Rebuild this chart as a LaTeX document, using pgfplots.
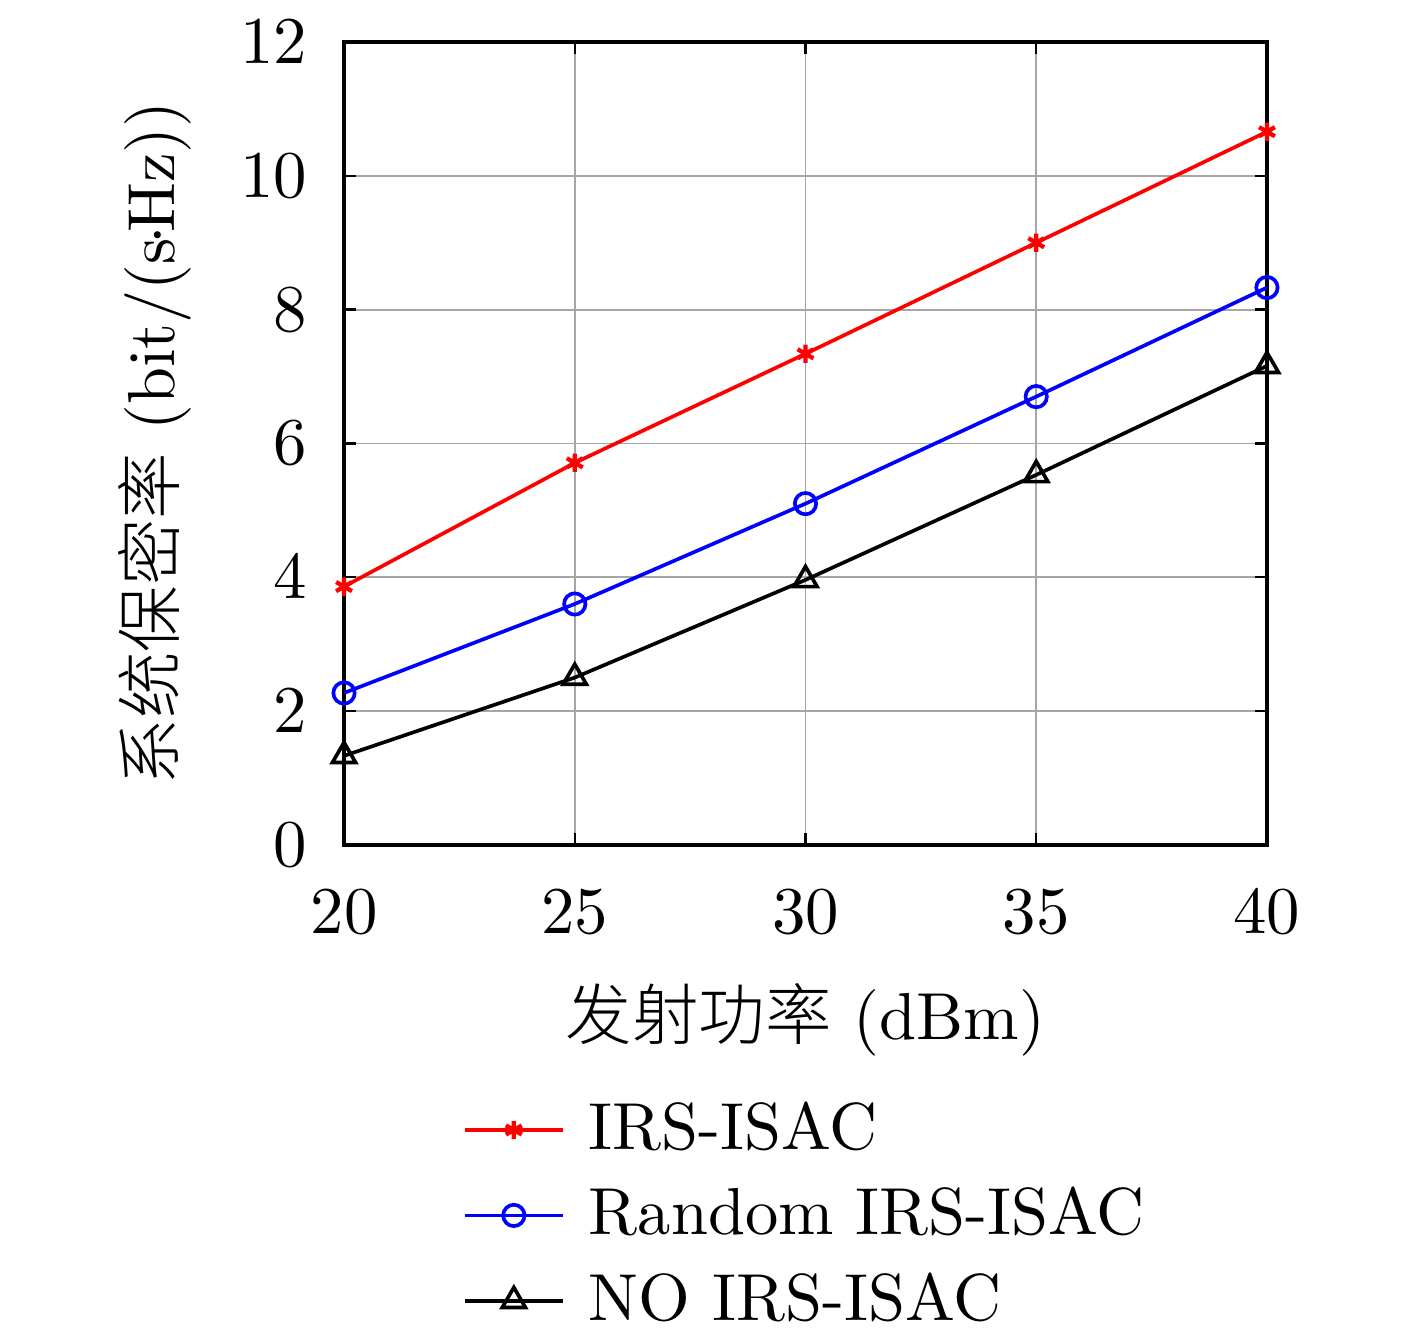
\documentclass[border=0pt]{standalone}
\usepackage{fontspec}
\newfontfamily\cjk{Noto Sans CJK SC Light}
\usepackage{pgfplots}
\pgfplotsset{compat=1.18}
\newcommand\fs{\fontsize{10.9pt}{13.5pt}\selectfont}
\begin{document}
\begin{tikzpicture}
\path[use as bounding box] (-56.4pt,-80.3pt) rectangle (175.9pt,138.5pt);
\begin{axis}[
  at={(0pt,0pt)}, anchor=south west,
  scale only axis, width=151.3pt, height=131.6pt,
  xmin=20, xmax=40, ymin=0, ymax=12,
  xtick={20,25,30,35,40}, ytick={0,2,4,6,8,10,12},
  axis line style={line width=0.65pt},
  tick style={line width=0.4pt, black},
  major tick length=2pt,
  tick align=inside,
  xtick pos=both, ytick pos=both,
  grid=major,
  major grid style={line width=0.3pt, gray!70},
  tick label style={font=\fs},
  xticklabel style={yshift=-4pt},
  yticklabel style={xshift=-2.5pt},
  every axis x label/.style={at={(axis description cs:0.5,-0.218)}, anchor=center, font=\fs},
  every axis y label/.style={at={(axis description cs:-0.205,0.5)}, anchor=center, rotate=90, font=\fs},
  xlabel={{\cjk 发射功率} (dBm)},
  ylabel={{\cjk 系统保密率} (bit/(s\kern-0.1em$\cdot$\kern-0.1em Hz))},
  legend style={draw=none, fill=none, at={(0.108,-0.288)}, anchor=north west, row sep=0.7pt, font=\fs,
    nodes={inner xsep=4pt}},
  legend cell align=left,
  legend image code/.code={\draw[mark repeat=2,mark phase=2] plot coordinates {(0pt,0pt) (8pt,0pt) (16pt,0pt)};},
]
\addplot[red, line width=0.6pt, mark=asterisk, mark size=1.5pt, mark options={line width=0.7pt}] coordinates {(20,3.86) (25,5.71) (30,7.34) (35,9.0) (40,10.66)};
\addlegendentry{IRS-ISAC}
\addplot[blue, line width=0.6pt, mark=o, mark size=1.75pt, mark options={line width=0.6pt}] coordinates {(20,2.27) (25,3.6) (30,5.1) (35,6.7) (40,8.33)};
\addlegendentry{Random IRS-ISAC}
\addplot[black, line width=0.6pt, mark=triangle, mark size=2.2pt, mark options={line width=0.6pt}] coordinates {(20,1.33) (25,2.5) (30,3.96) (35,5.53) (40,7.16)};
\addlegendentry{NO IRS-ISAC}
\end{axis}
\end{tikzpicture}
\end{document}
